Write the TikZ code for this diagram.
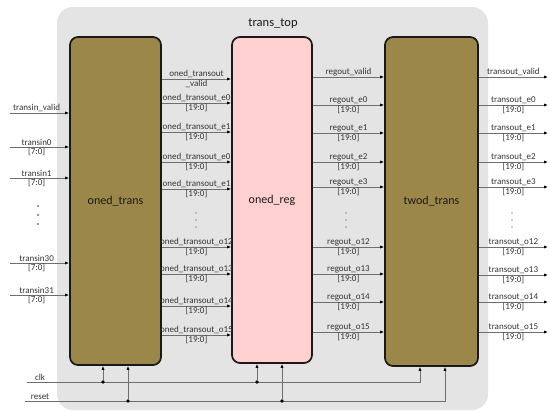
\documentclass[tikz,border=0pt]{standalone}
\usepackage{fontspec}
\setmainfont{Carlito}
\usetikzlibrary{arrows.meta}
\definecolor{boxolive}{HTML}{9A8749}
\definecolor{boxpink}{HTML}{FFD0D0}
\definecolor{bggray}{HTML}{E4E4E4}
\definecolor{wire}{HTML}{6E6E6E}
\definecolor{txt}{HTML}{333333}
\begin{document}
\begin{tikzpicture}[x=1pt,y=-1pt,
  blockbox/.style={draw=black!90, line width=1.7pt, rounded corners=8pt, inner sep=0pt, font=\fontsize{12}{14}\selectfont, text=black!90},
  sig/.style={draw=wire, line width=0.8pt, -{Latex[length=4pt,width=3.2pt,black]}},
  lab/.style={font=\fontsize{9}{10}\selectfont, text=txt, inner sep=1pt},
  junction/.style={circle, fill=black, inner sep=0pt, minimum size=3.6pt}]
\useasboundingbox (0,0) rectangle (550,412);
\fill[bggray, rounded corners=16pt] (57,7) rectangle (488,410);
\node[font=\fontsize{12.5}{14}\selectfont, text=black!90] (title) at (273,24) {trans\_top};
% blocks
\node[blockbox, fill=boxolive, minimum width=91pt, minimum height=328pt] (oned) at (115.5,201) {oned\_trans};
\node[blockbox, fill=boxpink, minimum width=80pt, minimum height=326pt] (reg) at (272,200) {oned\_reg};
\node[blockbox, fill=boxolive, minimum width=93pt, minimum height=329pt] (twod) at (431.5,201.5) {twod\_trans};
% inputs
\coordinate (inv) at (10,113);
\draw[sig] (inv) -- (oned.west |- inv) node[lab, above, pos=0.45] {transin\_valid};
\foreach \y/\nm in {147/transin0, 178/transin1, 263/transin30, 295/transin31}{
  \coordinate (in\y) at (10,\y);
  \draw[sig] (in\y) -- (oned.west |- in\y)
    node[lab, above, pos=0.45] {\nm} node[lab, below, pos=0.45] {[7:0]};
}
\foreach \yy in {206,215,224} \fill[txt] (38,\yy) circle (0.8pt);
% oned -> reg
\coordinate (m79) at (200,79);
\draw[sig] (oned.east |- m79) -- (reg.west |- m79)
  node[lab, above, midway] {oned\_transout} node[lab, below, midway] {\_valid};
\foreach \y/\nm in {103/oned\_transout\_e0, 132/oned\_transout\_e1, 162/oned\_transout\_e0, 189/oned\_transout\_e1, 247/oned\_transout\_o12, 274/oned\_transout\_o13, 306/oned\_transout\_o14, 335/oned\_transout\_o15}{
  \coordinate (m\y) at (200,\y);
  \draw[sig] (oned.east |- m\y) -- (reg.west |- m\y)
    node[lab, above, midway] {\nm} node[lab, below, midway] {[19:0]};
}
\foreach \yy in {213,220,227} \fill[txt] (196,\yy) circle (0.7pt);
% reg -> twod
\coordinate (r77) at (350,77);
\draw[sig] (reg.east |- r77) -- (twod.west |- r77) node[lab, above, midway] {regout\_valid};
\foreach \y/\nm in {105/regout\_e0, 133/regout\_e1, 162/regout\_e2, 187/regout\_e3, 247/regout\_o12, 274/regout\_o13, 302/regout\_o14, 332/regout\_o15}{
  \coordinate (r\y) at (350,\y);
  \draw[sig] (reg.east |- r\y) -- (twod.west |- r\y)
    node[lab, above, midway] {\nm} node[lab, below, midway] {[19:0]};
}
\foreach \yy in {213,220,227} \fill[txt] (346,\yy) circle (0.7pt);
% outputs
\coordinate (o77) at (548,77);
\draw[sig] (twod.east |- o77) -- (o77) node[lab, above, midway] {transout\_valid};
\foreach \y/\nm in {105/transout\_e0, 133/transout\_e1, 162/transout\_e2, 187/transout\_e3, 247/transout\_o12, 275/transout\_o13, 302/transout\_o14, 332/transout\_o15}{
  \coordinate (o\y) at (548,\y);
  \draw[sig] (twod.east |- o\y) -- (o\y)
    node[lab, above, midway] {\nm} node[lab, below, midway] {[19:0]};
}
\foreach \yy in {213,220,227} \fill[txt] (512,\yy) circle (0.7pt);
% clk / reset
\coordinate (clkL) at (27,382);
\coordinate (rstL) at (25,401);
\node[lab, above] at (40,382) {clk};
\node[lab, above] at (40,401) {reset};
\coordinate (c1) at ([xshift=-12.5pt]oned.south);
\coordinate (r1) at ([xshift=12.5pt]oned.south);
\coordinate (c2) at ([xshift=-15pt]reg.south);
\coordinate (r2) at ([xshift=10pt]reg.south);
\coordinate (c3) at ([xshift=-11.5pt]twod.south);
\coordinate (r3) at ([xshift=13.5pt]twod.south);
\draw[sig] (clkL) -| (c3);
\draw[sig] (rstL) -| (r3);
\node[junction] (jc1) at (clkL -| c1) {};
\node[junction] (jr1) at (rstL -| r1) {};
\node[junction] (jc2) at (clkL -| c2) {};
\node[junction] (jr2) at (rstL -| r2) {};
\draw[sig] (jc1) -- (c1);
\draw[sig] (jr1) -- (r1);
\draw[sig] (jc2) -- (c2);
\draw[sig] (jr2) -- (r2);
\end{tikzpicture}
\end{document}
